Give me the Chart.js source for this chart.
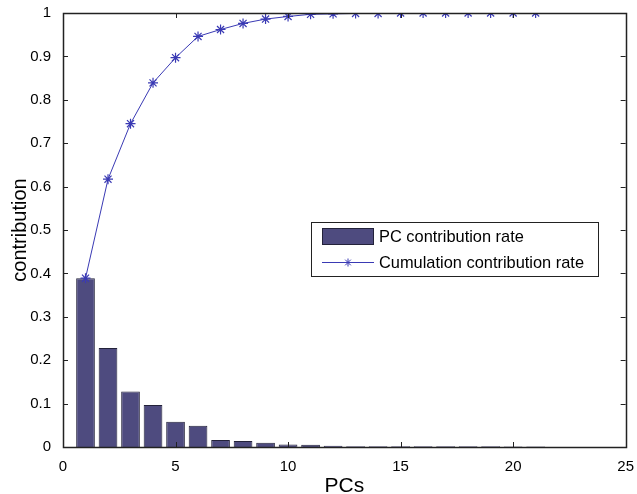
<!DOCTYPE html>
<html>
<head>
<meta charset="utf-8">
<script src="https://cdn.jsdelivr.net/npm/chart.js@4.4.0/dist/chart.umd.min.js"></script>
<style>
html, body { margin: 0; padding: 0; background: #fff; }
#grafico { display: block; }
</style>
</head>
<body>
<canvas id="grafico" width="637" height="494"></canvas>
<script>
// ======================================
// DATOS
// ======================================

const pcs = [1, 2, 3, 4, 5, 6, 7, 8, 9, 10, 11, 12, 13, 14, 15, 16, 17, 18, 19, 20, 21];
const pcRate = [0.389, 0.228, 0.128, 0.097, 0.058, 0.049, 0.016, 0.014, 0.010, 0.006, 0.005,
                0.003, 0.002, 0.002, 0.002, 0.002, 0.002, 0.002, 0.002, 0.001, 0.001];
const cumRate = [0.389, 0.617, 0.745, 0.839, 0.897, 0.946, 0.962, 0.976, 0.986, 0.992, 0.997,
                 0.998, 0.999, 0.999, 1, 1, 1, 1, 1, 1, 1];
const xTicks = [0, 5, 10, 15, 20, 25];
const yTicks = [0, 0.1, 0.2, 0.3, 0.4, 0.5, 0.6, 0.7, 0.8, 0.9, 1];

const nombreBarras = "PC contribution rate";
const nombreLinea = "Cumulation contribution rate";

const fuente = "'Liberation Sans', Arial, sans-serif";
const colorBarra = "#4e4b7f";
const colorBorde = "#23223a";
const colorLinea = "#3a3ab4";

// ======================================
// MARCO Y TICKS HACIA ADENTRO
// ======================================

const marco = {
id: "marco",
afterDatasetsDraw(chart) {
const ctx = chart.ctx;
const a = chart.chartArea;
const sx = chart.scales.x;
const sy = chart.scales.y;
const largo = 5;
ctx.save();
ctx.strokeStyle = "#222";
ctx.lineWidth = 1;
ctx.beginPath();
xTicks.forEach(v => {
const px = Math.round(sx.getPixelForValue(v)) + 0.5;
ctx.moveTo(px, a.bottom); ctx.lineTo(px, a.bottom - largo);
ctx.moveTo(px, a.top); ctx.lineTo(px, a.top + largo);
});
yTicks.forEach(v => {
const py = Math.round(sy.getPixelForValue(v)) + 0.5;
ctx.moveTo(a.left, py); ctx.lineTo(a.left + largo, py);
ctx.moveTo(a.right, py); ctx.lineTo(a.right - largo, py);
});
ctx.stroke();
ctx.lineWidth = 1.5;
ctx.strokeRect(Math.round(a.left) + 0.5, Math.round(a.top) + 0.5,
Math.round(a.right - a.left), Math.round(a.bottom - a.top));
ctx.restore();
}
};

// ======================================
// LEYENDA DENTRO DEL GRAFICO
// ======================================

const leyenda = {
id: "leyenda",
afterDraw(chart) {
const ctx = chart.ctx;
const x = 311, y = 222, w = 287, h = 54;
ctx.save();
ctx.fillStyle = "#fff";
ctx.fillRect(x, y, w, h);
ctx.strokeStyle = "#222";
ctx.lineWidth = 1;
ctx.strokeRect(x + 0.5, y + 0.5, w, h);

// muestra de barra
ctx.fillStyle = colorBarra;
ctx.fillRect(322, 228, 52, 17);
ctx.strokeStyle = colorBorde;
ctx.strokeRect(322.5, 228.5, 51, 16);

// muestra de linea con asterisco
ctx.strokeStyle = colorLinea;
ctx.beginPath();
ctx.moveTo(322, 262.5); ctx.lineTo(374, 262.5);
ctx.stroke();
Chart.helpers.drawPoint(ctx, { pointStyle: "star", radius: 4, borderWidth: 1 }, 348, 262.5);

ctx.fillStyle = "#000";
ctx.font = "16.4px " + fuente;
ctx.textBaseline = "middle";
ctx.fillText(nombreBarras, 379, 237);
ctx.fillText(nombreLinea, 379, 263);
ctx.restore();
}
};

// ======================================
// GRAFICO
// ======================================

new Chart(document.getElementById("grafico"), {
data: {
datasets: [
{
type: "line",
label: nombreLinea,
data: pcs.map((p, i) => ({ x: p, y: cumRate[i] })),
borderColor: colorLinea,
borderWidth: 1,
pointStyle: "star",
pointRadius: 5,
pointBorderWidth: 1.2,
pointBorderColor: colorLinea,
pointBackgroundColor: colorLinea,
fill: false,
tension: 0,
order: 1
},
{
type: "bar",
label: nombreBarras,
data: pcs.map((p, i) => ({ x: p, y: pcRate[i] })),
backgroundColor: colorBarra,
borderColor: colorBorde,
borderWidth: 1,
barPercentage: 0.83,
categoryPercentage: 1,
order: 2
}
]
},
options: {
responsive: false,
animation: false,
devicePixelRatio: 1,
layout: { padding: { top: 12, right: 10, left: 8, bottom: 0 } },
plugins: {
legend: { display: false },
tooltip: { enabled: false }
},
scales: {
x: {
type: "linear",
min: 0,
max: 25,
offset: false,
afterBuildTicks: s => { s.ticks = xTicks.map(v => ({ value: v })); },
grid: { display: false, offset: false },
border: { display: false },
ticks: { color: "#000", font: { family: fuente, size: 15 }, padding: 3, maxRotation: 0 },
title: { display: true, text: "PCs", color: "#000", font: { family: fuente, size: 21 }, padding: { top: 6, bottom: -5 } },
afterFit: s => { s.height = 47; }
},
y: {
min: 0,
max: 1,
afterBuildTicks: s => { s.ticks = yTicks.map(v => ({ value: v })); },
grid: { display: false },
border: { display: false },
ticks: { color: "#000", font: { family: fuente, size: 15 }, padding: 4, callback: v => String(v) },
title: { display: true, text: "contribution", color: "#000", font: { family: fuente, size: 20 }, padding: { top: 0, bottom: 2 } },
afterFit: s => { s.width = 55; }
}
}
},
plugins: [marco, leyenda]
});
</script>
</body>
</html>
